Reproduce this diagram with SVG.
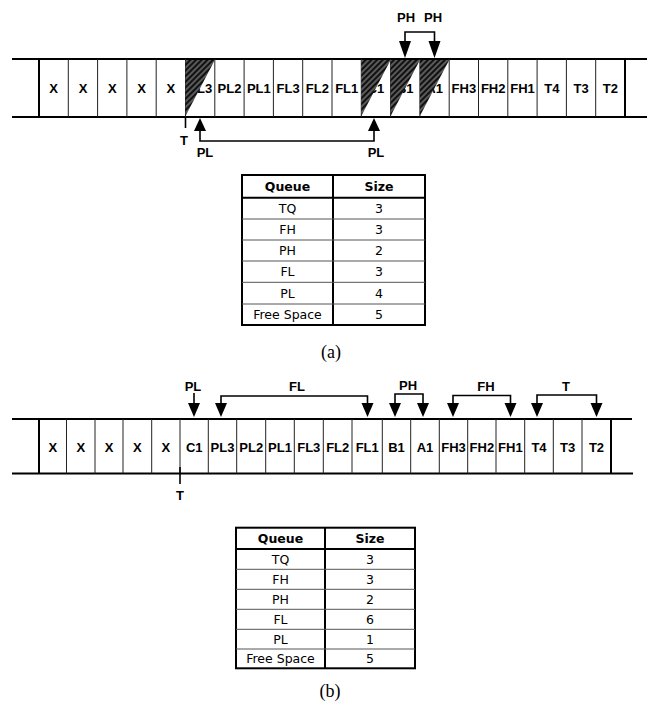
<svg xmlns="http://www.w3.org/2000/svg" width="651" height="706" viewBox="0 0 651 706">
<style>
.rail{stroke:#000;stroke-width:2;fill:none}
.div{stroke:#222;stroke-width:1;fill:none}
.edge{stroke:#000;stroke-width:2;fill:none}
.cell{font-family:"Liberation Sans",Arial,sans-serif;font-weight:bold;font-size:13px;text-anchor:middle;fill:#000}
.lbl{font-family:"Liberation Sans",Arial,sans-serif;font-weight:bold;font-size:13px;text-anchor:middle;fill:#000}
.con{stroke:#000;stroke-width:1.6;fill:none}
.head{fill:#000}
.tb{font-family:"DejaVu Sans",Verdana,sans-serif;font-size:12.5px;text-anchor:middle;fill:#000}
.tbh{font-family:"DejaVu Sans",Verdana,sans-serif;font-size:12.5px;font-weight:bold;text-anchor:middle;fill:#000}
.tout{stroke:#000;stroke-width:2;fill:none}
.tin{stroke:#555;stroke-width:1;fill:none}
.cap{font-family:"Liberation Serif","Times New Roman",serif;font-size:18px;text-anchor:middle;fill:#000}
.hat{fill:url(#hatch)}
</style>
<defs>
<pattern id="hatch" width="4" height="4" patternUnits="userSpaceOnUse" patternTransform="rotate(45)">
<rect width="4" height="4" fill="#5a5a5a"/>
<line x1="1" y1="0" x2="1" y2="4" stroke="#111" stroke-width="2"/>
</pattern>
</defs>

<!-- ===== Diagram (a) ===== -->
<g id="buffer-a">
<line class="rail" x1="12" y1="59" x2="647" y2="59"/>
<line class="rail" x1="12" y1="117" x2="647" y2="117"/>
<line class="edge" x1="39" y1="59" x2="39" y2="117"/>
<line class="edge" x1="625" y1="59" x2="625" y2="117"/>
<path class="div" d="M68.3 59V117M97.6 59V117M126.9 59V117M156.2 59V117M185.5 59V117M214.8 59V117M244.1 59V117M273.4 59V117M302.7 59V117M332 59V117M361.3 59V117M390.6 59V117M419.9 59V117M449.2 59V117M478.5 59V117M507.8 59V117M537.1 59V117M566.4 59V117M595.7 59V117"/>
<text class="cell" x="53.7" y="92.5">X</text>
<text class="cell" x="83" y="92.5">X</text>
<text class="cell" x="112.3" y="92.5">X</text>
<text class="cell" x="141.6" y="92.5">X</text>
<text class="cell" x="170.9" y="92.5">X</text>
<text class="cell" x="200.2" y="92.5">PL3</text>
<text class="cell" x="229.5" y="92.5">PL2</text>
<text class="cell" x="258.8" y="92.5">PL1</text>
<text class="cell" x="288.1" y="92.5">FL3</text>
<text class="cell" x="317.4" y="92.5">FL2</text>
<text class="cell" x="346.7" y="92.5">FL1</text>
<text class="cell" x="376" y="92.5">C1</text>
<text class="cell" x="405.3" y="92.5">B1</text>
<text class="cell" x="434.6" y="92.5">A1</text>
<text class="cell" x="463.9" y="92.5">FH3</text>
<text class="cell" x="493.2" y="92.5">FH2</text>
<text class="cell" x="522.5" y="92.5">FH1</text>
<text class="cell" x="551.8" y="92.5">T4</text>
<text class="cell" x="581.1" y="92.5">T3</text>
<text class="cell" x="610.4" y="92.5">T2</text>
<polygon class="hat" points="185.5,60 214.8,60 185.5,116"/>
<polygon class="hat" points="361.3,60 390.6,60 361.3,116"/>
<polygon class="hat" points="390.6,60 419.9,60 390.6,116"/>
<polygon class="hat" points="419.9,60 449.2,60 419.9,116"/>
</g>

<g id="pointers-a">
<line class="con" x1="185.5" y1="117" x2="185.5" y2="128"/>
<text class="lbl" x="184" y="145">T</text>
<path class="con" d="M200 131V141H374V131"/>
<polygon class="head" points="200,118 194,131 206,131"/>
<polygon class="head" points="374,118 368,131 380,131"/>
<text class="lbl" x="205" y="157">PL</text>
<text class="lbl" x="376" y="157">PL</text>
<path class="con" d="M405 41V32H434.5V41"/>
<polygon class="head" points="405,58 399,41 411,41"/>
<polygon class="head" points="434.5,58 428.5,41 440.5,41"/>
<text class="lbl" x="406" y="22">PH</text>
<text class="lbl" x="433" y="22">PH</text>
</g>

<g id="table-a">
<rect class="tout" x="242" y="175" width="183" height="150"/>
<line class="tout" x1="242" y1="197.7" x2="425" y2="197.7"/>
<line class="tout" x1="333" y1="175" x2="333" y2="325"/>
<path class="tin" d="M242 219H425M242 240H425M242 261H425M242 282.3H425M242 304H425"/>
<text class="tbh" x="287.5" y="190.8">Queue</text>
<text class="tbh" x="379" y="190.8">Size</text>
<text class="tb" x="287.5" y="212.8">TQ</text><text class="tb" x="379" y="212.8">3</text>
<text class="tb" x="287.5" y="234">FH</text><text class="tb" x="379" y="234">3</text>
<text class="tb" x="287.5" y="255">PH</text><text class="tb" x="379" y="255">2</text>
<text class="tb" x="287.5" y="276.2">FL</text><text class="tb" x="379" y="276.2">3</text>
<text class="tb" x="287.5" y="297.7">PL</text><text class="tb" x="379" y="297.7">4</text>
<text class="tb" x="287.5" y="319">Free Space</text><text class="tb" x="379" y="319">5</text>
</g>
<text class="cap" x="331" y="358">(a)</text>

<!-- ===== Diagram (b) ===== -->
<g id="buffer-b">
<line class="rail" x1="12" y1="419" x2="632" y2="419"/>
<line class="rail" x1="12" y1="473.5" x2="633" y2="473.5"/>
<line class="edge" x1="39" y1="419" x2="39" y2="473.5"/>
<line class="edge" x1="611" y1="419" x2="611" y2="473.5"/>
<path class="div" d="M66.5 419V473.5M95 419V473.5M123 419V473.5M151.7 419V473.5M180 419V473.5M208.3 419V473.5M236.7 419V473.5M265.7 419V473.5M294.3 419V473.5M323.3 419V473.5M352 419V473.5M382.3 419V473.5M410.7 419V473.5M439.3 419V473.5M467.7 419V473.5M496 419V473.5M524.7 419V473.5M553.3 419V473.5M582 419V473.5"/>
<text class="cell" x="52.8" y="452">X</text>
<text class="cell" x="80.8" y="452">X</text>
<text class="cell" x="109" y="452">X</text>
<text class="cell" x="137.4" y="452">X</text>
<text class="cell" x="165.9" y="452">X</text>
<text class="cell" x="194.2" y="452">C1</text>
<text class="cell" x="222.5" y="452">PL3</text>
<text class="cell" x="251.2" y="452">PL2</text>
<text class="cell" x="280" y="452">PL1</text>
<text class="cell" x="308.8" y="452">FL3</text>
<text class="cell" x="337.7" y="452">FL2</text>
<text class="cell" x="367.2" y="452">FL1</text>
<text class="cell" x="396.5" y="452">B1</text>
<text class="cell" x="425" y="452">A1</text>
<text class="cell" x="453.5" y="452">FH3</text>
<text class="cell" x="481.9" y="452">FH2</text>
<text class="cell" x="510.4" y="452">FH1</text>
<text class="cell" x="539" y="452">T4</text>
<text class="cell" x="567.7" y="452">T3</text>
<text class="cell" x="596.5" y="452">T2</text>
</g>

<g id="pointers-b">
<line class="con" x1="180" y1="467" x2="180" y2="484"/>
<text class="lbl" x="180" y="500">T</text>
<line class="con" x1="194" y1="393" x2="194" y2="404"/>
<polygon class="head" points="194,417 188,403 200,403"/>
<text class="lbl" x="193" y="391">PL</text>
<path class="con" d="M221 404V396H367.5V404"/>
<polygon class="head" points="221,417 215,403 227,403"/>
<polygon class="head" points="367.5,417 361.5,403 373.5,403"/>
<text class="lbl" x="297" y="391">FL</text>
<path class="con" d="M395 404V394H423V404"/>
<polygon class="head" points="395,417 389,403 401,403"/>
<polygon class="head" points="423,417 417,403 429,403"/>
<text class="lbl" x="408" y="390">PH</text>
<path class="con" d="M453 404V395.5H510.5V404"/>
<polygon class="head" points="453,417 447,403 459,403"/>
<polygon class="head" points="510.5,417 504.5,403 516.5,403"/>
<text class="lbl" x="486" y="391">FH</text>
<path class="con" d="M537 404V395H596.5V404"/>
<polygon class="head" points="537,417 531,403 543,403"/>
<polygon class="head" points="596.5,417 590.5,403 602.5,403"/>
<text class="lbl" x="566" y="391">T</text>
</g>

<g id="table-b">
<rect class="tout" x="236" y="527.7" width="179" height="140.6"/>
<line class="tout" x1="236" y1="549" x2="415" y2="549"/>
<line class="tout" x1="325" y1="527.7" x2="325" y2="668.3"/>
<path class="tin" d="M236 569.3H415M236 589.3H415M236 609.3H415M236 629.3H415M236 649H415"/>
<text class="tbh" x="280.5" y="542.8">Queue</text>
<text class="tbh" x="370" y="542.8">Size</text>
<text class="tb" x="280.5" y="563.7">TQ</text><text class="tb" x="370" y="563.7">3</text>
<text class="tb" x="280.5" y="583.7">FH</text><text class="tb" x="370" y="583.7">3</text>
<text class="tb" x="280.5" y="603.7">PH</text><text class="tb" x="370" y="603.7">2</text>
<text class="tb" x="280.5" y="623.7">FL</text><text class="tb" x="370" y="623.7">6</text>
<text class="tb" x="280.5" y="643.5">PL</text><text class="tb" x="370" y="643.5">1</text>
<text class="tb" x="280.5" y="663">Free Space</text><text class="tb" x="370" y="663">5</text>
</g>
<text class="cap" x="330" y="697">(b)</text>
</svg>
